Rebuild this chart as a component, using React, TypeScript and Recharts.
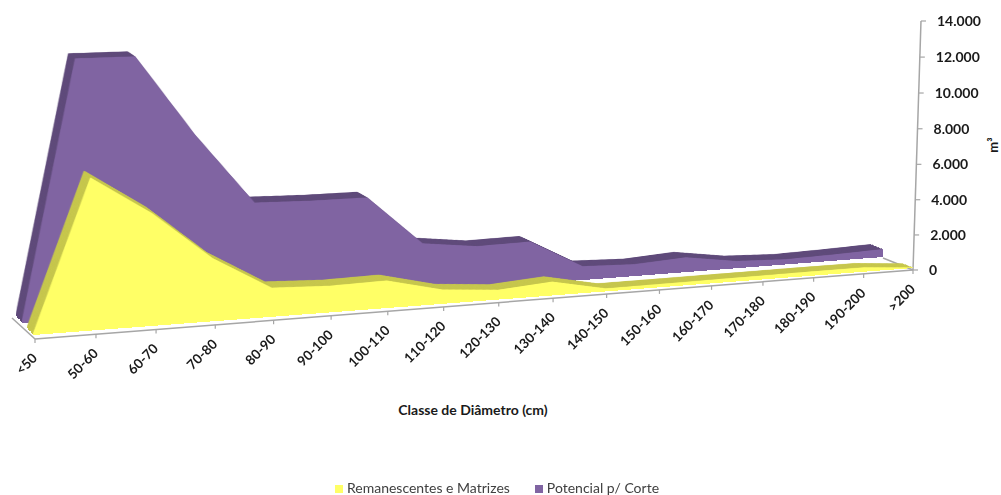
import { Area, AreaChart, Legend, XAxis, YAxis } from "recharts";

const WIDTH = 1001;
const HEIGHT = 495;
const MAX_VOLUME = 14000;

const categories = ["<50", "50-60", "60-70", "70-80", "80-90", "90-100", "100-110", "110-120", "120-130", "130-140", "140-150", "150-160", "160-170", "170-180", "180-190", "190-200", ">200"];
const remanescentes = [50, 7810, 5810, 3290, 1530, 1410, 1470, 767, 530, 750, 160, 180, 200, 220, 240, 250, 30];
const potencial = [100, 13630, 13600, 9300, 5540, 5450, 5430, 2710, 2340, 2385, 780, 675, 850, 420, 300, 370, 465];
const volumeTicks = [0, 2000, 4000, 6000, 8000, 10000, 12000, 14000];

const rows = categories.map((classe, i) => ({
  classe,
  remanescentes: remanescentes[i],
  potencial: potencial[i],
}));

type Pt = [number, number];
// corners in order: top-left, top-right, bottom-right, bottom-left
type Quad = [Pt, Pt, Pt, Pt];

const AXIS_PLANE: Quad = [[27, 61], [921, 21], [913, 270], [35, 339]];
const PURPLE_FRONT: Quad = [[14, 54], [890, 16], [883, 257], [22, 323]];
const PURPLE_BACK: Quad = [[8, 49], [878, 11], [871, 252], [16, 316]];
const YELLOW_FRONT: Quad = [[25, 57], [920.5, 19], [913, 268], [33, 335]];
const YELLOW_BACK: Quad = [[19, 50], [910, 15], [903, 264], [27, 328]];
const DEPTH_STEPS = 8;

// projective map from the unit square onto a quad
function homography([p0, p1, p2, p3]: Quad) {
  const dx1 = p1[0] - p2[0];
  const dx2 = p3[0] - p2[0];
  const dx3 = p0[0] - p1[0] + p2[0] - p3[0];
  const dy1 = p1[1] - p2[1];
  const dy2 = p3[1] - p2[1];
  const dy3 = p0[1] - p1[1] + p2[1] - p3[1];
  const det = dx1 * dy2 - dx2 * dy1;
  const g = (dx3 * dy2 - dx2 * dy3) / det;
  const h = (dx1 * dy3 - dx3 * dy1) / det;
  return {
    a: p1[0] - p0[0] + g * p1[0],
    b: p3[0] - p0[0] + h * p3[0],
    c: p0[0],
    d: p1[1] - p0[1] + g * p1[1],
    e: p3[1] - p0[1] + h * p3[1],
    f: p0[1],
    g,
    h,
  };
}

function project(quad: Quad, u: number, v: number): Pt {
  const m = homography(quad);
  const w = m.g * u + m.h * v + 1;
  return [(m.a * u + m.b * v + m.c) / w, (m.d * u + m.e * v + m.f) / w];
}

function toMatrix3d(quad: Quad) {
  const m = homography(quad);
  const cells = [
    m.a / WIDTH, m.d / WIDTH, 0, m.g / WIDTH,
    m.b / HEIGHT, m.e / HEIGHT, 0, m.h / HEIGHT,
    0, 0, 1, 0,
    m.c, m.f, 0, 1,
  ];
  return `matrix3d(${cells.join(",")})`;
}

function mixQuad(from: Quad, to: Quad, t: number): Quad {
  return from.map((p, i) => [
    p[0] + (to[i][0] - p[0]) * t,
    p[1] + (to[i][1] - p[1]) * t,
  ]) as Quad;
}

const layerStyle = { position: "absolute", left: 0, top: 0 } as const;

function SeriesPlane({ dataKey, color, quad }: { dataKey: string; color: string; quad: Quad }) {
  return (
    <div style={{ ...layerStyle, width: WIDTH, height: HEIGHT, transformOrigin: "0 0", transform: toMatrix3d(quad) }}>
      <AreaChart width={WIDTH} height={HEIGHT} data={rows} margin={{ top: 0, right: 0, bottom: 0, left: 0 }}>
        <XAxis dataKey="classe" hide />
        <YAxis hide domain={[0, MAX_VOLUME]} />
        <Area
          type="linear"
          dataKey={dataKey}
          fill={color}
          fillOpacity={1}
          stroke={color}
          strokeWidth={0.5}
          dot={false}
          activeDot={false}
          isAnimationActive={false}
        />
      </AreaChart>
    </div>
  );
}

// thickness of a series: copies stepping from the back plane to the front one
function SeriesSolid({ dataKey, face, side, front, back }: { dataKey: string; face: string; side: string; front: Quad; back: Quad }) {
  const steps = Array.from({ length: DEPTH_STEPS }, (_, i) => i / DEPTH_STEPS);
  return (
    <>
      {steps.map((t) => (
        <SeriesPlane key={t} dataKey={dataKey} color={side} quad={mixQuad(back, front, t)} />
      ))}
      <SeriesPlane dataKey={dataKey} color={face} quad={front} />
    </>
  );
}

function CategoryTick({ payload }: any) {
  const [x, y] = project(AXIS_PLANE, payload.coordinate / (WIDTH - 1), 1);
  return (
    <g>
      <line x1={x} y1={y} x2={x} y2={y + 4} stroke="#a6a6a6" strokeWidth={1.2} />
      <text
        x={x + 3}
        y={y + 20}
        textAnchor="end"
        fontFamily="Lato"
        fontWeight={700}
        fontSize={13.5}
        fill="#1a1a1a"
        transform={`rotate(-45 ${x + 3} ${y + 20})`}
      >
        {payload.value}
      </text>
    </g>
  );
}

function VolumeTick({ payload }: any) {
  const [x, y] = project(AXIS_PLANE, 1, payload.coordinate / (HEIGHT - 1));
  const label = payload.value === 0 ? "0" : payload.value.toLocaleString("de-DE");
  return (
    <g>
      <line x1={x} y1={y} x2={x + 5} y2={y} stroke="#a6a6a6" strokeWidth={1.2} />
      <text x={x + 16} y={y + 5} textAnchor="start" fontFamily="Lato" fontWeight={700} fontSize={14} fill="#1a1a1a">
        {label}
      </text>
    </g>
  );
}

function Frame() {
  const frontLeft: Pt = [35, 339];
  const frontRight: Pt = [913, 270];
  const backLeft: Pt = [12, 318];
  const backRight: Pt = [883, 258];
  const axisTop = project(AXIS_PLANE, 1, 0);
  const edge = (a: Pt, b: Pt) => <line x1={a[0]} y1={a[1]} x2={b[0]} y2={b[1]} stroke="#a6a6a6" strokeWidth={1.5} />;
  return (
    <svg width={WIDTH} height={HEIGHT} style={layerStyle}>
      {edge(frontLeft, frontRight)}
      {edge(frontLeft, backLeft)}
      {edge(frontRight, backRight)}
      {edge(frontRight, axisTop)}
      <text x={473} y={415} textAnchor="middle" fontFamily="Lato" fontWeight={700} fontSize={14} fill="#1a1a1a">
        Classe de Diâmetro (cm)
      </text>
      <text
        x={998}
        y={145}
        textAnchor="middle"
        fontFamily="Lato"
        fontWeight={700}
        fontSize={13}
        fill="#1a1a1a"
        transform="rotate(-90 998 145)"
      >
        m³
      </text>
    </svg>
  );
}

function Axes() {
  return (
    <div style={layerStyle}>
      <AreaChart width={WIDTH} height={HEIGHT} data={rows} margin={{ top: 0, right: 0, bottom: 0, left: 0 }}>
        <XAxis dataKey="classe" height={1} interval={0} axisLine={false} tickLine={false} tick={CategoryTick} />
        <YAxis orientation="right" width={1} domain={[0, MAX_VOLUME]} ticks={volumeTicks} interval={0} axisLine={false} tickLine={false} tick={VolumeTick} />
        <Area dataKey="potencial" fillOpacity={0} stroke="none" legendType="none" dot={false} activeDot={false} isAnimationActive={false} />
      </AreaChart>
    </div>
  );
}

function SeriesLegend() {
  return (
    <div style={layerStyle}>
      <AreaChart width={WIDTH} height={HEIGHT} data={rows}>
        <YAxis hide domain={[0, MAX_VOLUME]} />
        <Area dataKey="remanescentes" name="Remanescentes e Matrizes" legendType="square" fill="#ffff66" fillOpacity={0} stroke="none" isAnimationActive={false} />
        <Area dataKey="potencial" name="Potencial p/ Corte" legendType="square" fill="#8064a2" fillOpacity={0} stroke="none" isAnimationActive={false} />
        <Legend
          iconSize={8}
          itemSorter={null}
          wrapperStyle={{ left: 9, width: WIDTH, bottom: 0, lineHeight: "14px", fontFamily: "Lato", fontSize: 14 }}
          formatter={(value: string) => <span style={{ color: "#404040", marginRight: 15 }}>{value}</span>}
        />
      </AreaChart>
    </div>
  );
}

export default function App() {
  return (
    <div style={{ ...layerStyle, width: WIDTH, height: HEIGHT, overflow: "hidden", background: "#fff" }}>
      <Frame />
      <SeriesSolid dataKey="potencial" face="#8064a2" side="#5f4a7a" front={PURPLE_FRONT} back={PURPLE_BACK} />
      <SeriesSolid dataKey="remanescentes" face="#ffff66" side="#c6c64c" front={YELLOW_FRONT} back={YELLOW_BACK} />
      <Axes />
      <SeriesLegend />
    </div>
  );
}
